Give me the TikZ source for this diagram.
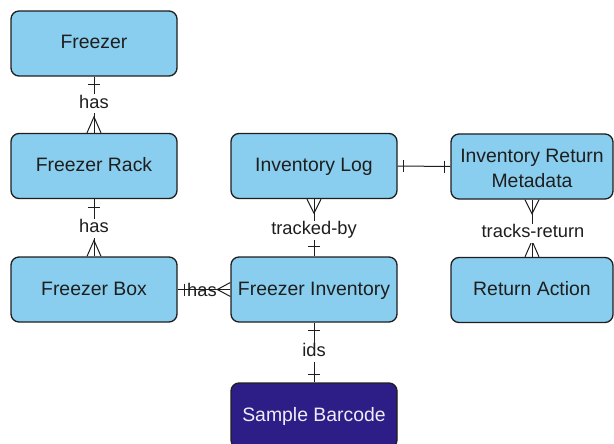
\documentclass[tikz,border=0pt]{standalone}
\usepackage{fontspec}
\setmainfont{Liberation Sans}
\definecolor{entfill}{RGB}{137,206,238}
\definecolor{entline}{RGB}{30,30,30}
\definecolor{txt}{RGB}{30,30,30}
\definecolor{darkfill}{RGB}{45,30,135}
\definecolor{lighttxt}{RGB}{240,236,250}
\begin{document}
\begin{tikzpicture}[x=1pt,y=-1pt,
  entitybase/.style={draw=entline, line width=1.3pt, fill=entfill, rounded corners=8pt,
    minimum width=166pt, minimum height=65pt, inner sep=0pt, align=center,
    text=txt, font=\fontsize{19.4}{25}\selectfont},
  entity/.style={entitybase, text height=13pt, text depth=2pt},
  darkentity/.style={entity, fill=darkfill, text=lighttxt},
  rel/.style={draw=entline, line width=1pt},
  rellabel/.style={fill=white, inner sep=1pt, text=txt, text height=13pt, text depth=4pt,
    font=\fontsize{18.3}{22}\selectfont}
]
\useasboundingbox (0,0) rectangle (614,444);

% entities
\node[entity] (freezer) at (94,43.5) {Freezer};
\node[entity] (rack) at (94,166) {Freezer Rack};
\node[entity] (box) at (94,289.5) {Freezer Box};
\node[entity] (log) at (314,166) {Inventory Log};
\node[entity] (inv) at (314,289.5) {Freezer Inventory};
\node[entitybase, minimum width=162pt, text height=42pt, text depth=1pt] (meta) at (532,166.5) {Inventory Return\\Metadata};
\node[entity, minimum width=162pt] (ret) at (532,290) {Return Action};
\node[darkentity] (barcode) at (314,415.5) {Sample Barcode};

% relationship lines
\draw[rel] (freezer.south) -- (rack.north);
\draw[rel] (rack.south) -- (box.north);
\draw[rel] (box.east) -- (inv.west);
\draw[rel] (log.east) -- (meta.west);
\draw[rel] (log.south) -- (inv.north);
\draw[rel] (meta.south) -- (ret.north);
\draw[rel] (inv.south) -- (barcode.north);

% "exactly one" bars
\draw[rel] ([xshift=-6pt,yshift=-8pt]freezer.south) -- ++(12,0);
\draw[rel] ([xshift=-6pt,yshift=-8pt]rack.south) -- ++(12,0);
\draw[rel] ([xshift=7pt,yshift=6pt]box.east) -- ++(0,12);
\draw[rel] ([xshift=6pt,yshift=6pt]log.east) -- ++(0,12);
\draw[rel] ([xshift=-6pt,yshift=6pt]meta.west) -- ++(0,12);
\draw[rel] ([xshift=-6pt,yshift=10pt]inv.north) -- ++(12,0);
\draw[rel] ([xshift=-6pt,yshift=-8pt]inv.south) -- ++(12,0);
\draw[rel] ([xshift=-6pt,yshift=8pt]barcode.north) -- ++(12,0);

% crow's feet
\draw[rel] ([xshift=-7pt]rack.north) -- ([yshift=16pt]rack.north) -- ([xshift=7pt]rack.north);
\draw[rel] ([xshift=-7pt]box.north) -- ([yshift=16pt]box.north) -- ([xshift=7pt]box.north);
\draw[rel] ([yshift=-7pt]inv.west) -- ([xshift=-13pt]inv.west) -- ([yshift=7pt]inv.west);
\draw[rel] ([xshift=-7pt]log.south) -- ([yshift=-14pt]log.south) -- ([xshift=7pt]log.south);
\draw[rel] ([xshift=-7pt]meta.south) -- ([yshift=-14pt]meta.south) -- ([xshift=7pt]meta.south);
\draw[rel] ([xshift=-7pt]ret.north) -- ([yshift=16pt]ret.north) -- ([xshift=7pt]ret.north);

% relationship labels
\node[rellabel] (l1) at (94,104) {has};
\node[rellabel] (l2) at (94,228) {has};
\node[rellabel, fill=none] (l3) at (202,292) {has};
\node[rellabel] (l4) at (314,230) {tracked-by};
\node[rellabel] (l5) at (533,233) {tracks-return};
\node[rellabel] (l6) at (314,352) {ids};
\end{tikzpicture}
\end{document}
